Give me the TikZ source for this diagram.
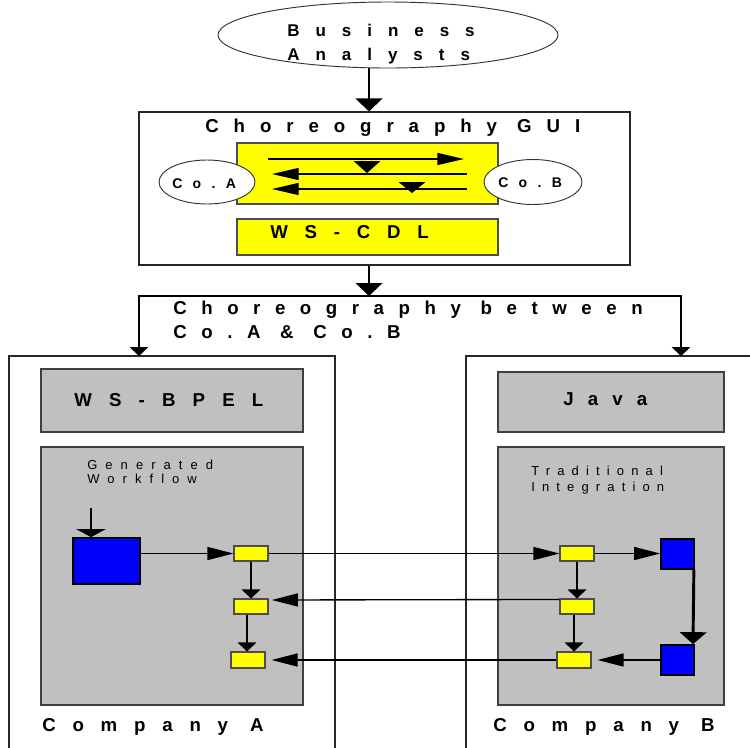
\documentclass[tikz,border=0pt]{standalone}
\usepackage{fontspec}
\setmainfont{Liberation Sans}
\usetikzlibrary{arrows.meta,fit,shapes.geometric}
\newcommand\spc[2]{\fontsize{#2}{#2}\selectfont\addfontfeature{LetterSpace=#1}}
\definecolor{gfill}{HTML}{C0C0C0}
\definecolor{yfill}{HTML}{FFFF00}
\definecolor{bfill}{HTML}{0000FF}
\begin{document}
\begin{tikzpicture}[x=0.75pt,y=-0.75pt,
  frame/.style={draw=black!85,line width=0.8pt},
  gbox/.style={draw=black!75,fill=gfill,line width=0.8pt,inner sep=0pt},
  ybox/.style={draw=black!70,fill=yfill,line width=0.8pt,inner sep=0pt},
  bbox/.style={draw=black,fill=bfill,line width=1.3pt,inner sep=0pt},
  oval/.style={ellipse,draw=black!80,fill=white,line width=0.7pt,inner sep=0pt},
  lbl/.style={anchor=base west,inner sep=0pt},
  bigtxt/.style={font=\bfseries\spc{#1}{14}},
  harrow/.style={line width=1pt,-{Triangle[length=19.5pt,width=9.75pt]}},
  varrow/.style={line width=1pt,-{Triangle[length=6.75pt,width=14pt]}},
  toparrow/.style={line width=1.6pt,-{Triangle[length=9.75pt,width=20pt]}},
  thickarrow/.style={line width=2.2pt,-{Triangle[length=9pt,width=20pt]}},
  tri/.style={fill=black}
]
\useasboundingbox (0,0) rectangle (750,747);

% Business analysts
\node[oval,minimum width=255pt,minimum height=49.5pt] (ba) at (388,35) {};
\node[lbl,font=\bfseries\spc{94}{12.75}] (ba1) at (287,36) {Business};
\node[lbl,font=\bfseries\spc{94}{12.75}] (ba2) at (287,60) {Analysts};

% Choreography GUI
\node[frame,fit={(139,112) (630,265)},inner sep=0pt] (gui) {};
\node[lbl,bigtxt=80] (guit) at (205,132) {Choreography GUI};
\node[ybox,fit={(237,143) (498,204)}] (ylw) {};
\node[ybox,fit={(237,219) (498,255)}] (cdl) {};
\node[lbl,bigtxt=90] (cdlt) at (270,238) {WS-CDL};
\node[oval,minimum width=72pt,minimum height=33pt] (coa) at (207,182) {};
\node[lbl,font=\bfseries\spc{74}{10.5}] (coat) at (172,188) {Co.A};
\node[oval,minimum width=73.5pt,minimum height=33.75pt] (cob) at (533,182) {};
\node[lbl,font=\bfseries\spc{74}{10.5}] (cobt) at (498,187) {Co.B};

% message arrows inside the GUI
\draw[line width=1pt,-{Triangle[length=20pt,width=9pt]}] (268,159) -- (464,159);
\draw[line width=1pt,-{Triangle[length=20pt,width=9pt]}] (467,174) -- (272,174);
\draw[line width=1pt,-{Triangle[length=20pt,width=9pt]}] (467,189) -- (272,189);
\fill[tri] (353.5,161) -- (380.5,161) -- (367,173) -- cycle;
\fill[tri] (398.5,182) -- (425.5,182) -- (412,193) -- cycle;

% top arrows
\coordinate (br) at (369,296);
\draw[toparrow] (ba.south -| br) -- (gui.north -| br);
\draw[toparrow] (gui.south -| br) -- (br);
\node[lbl,bigtxt=78] (cbt1) at (173,314) {Choreography between};
\node[lbl,bigtxt=78] (cbt2) at (173,338) {Co.A \& Co.B};

% company frames
\coordinate (cA) at (139,356);
\coordinate (cB) at (681,356);
\draw[frame] (9,750) -- (9,356) -- (335,356) -- (335,750);
\draw[frame] (466,750) -- (466,356) -- (752,356);
\draw[varrow,line width=0.9pt] (br) -| (cA);
\draw[varrow,line width=0.9pt] (br) -| (cB);

% Company A
\node[gbox,fit={(41,369) (303,432)}] (bpel) {};
\node[lbl,bigtxt=92] (bpelt) at (74,406) {WS-BPEL};
\node[gbox,fit={(41,447) (303,705)}] (wfA) {};
\node[lbl,font=\spc{62}{9.75}] (gw1) at (87,469) {Generated};
\node[lbl,font=\spc{62}{9.75}] (gw2) at (87,483) {Workflow};
\node[lbl,bigtxt=90] (compA) at (42,731) {Company A};

% Company B
\node[gbox,fit={(498,372) (724,432)}] (java) {};
\node[lbl,bigtxt=76] (javat) at (563,405) {Java};
\node[gbox,fit={(498,447) (724,705)}] (wfB) {};
\node[lbl,font=\spc{55}{9.75}] (ti1) at (531,475) {Traditional};
\node[lbl,font=\spc{55}{9.75}] (ti2) at (531,491) {Integration};
\node[lbl,bigtxt=90] (compB) at (493,731) {Company B};

% workflow A
\coordinate (inA) at (91,508);
\node[bbox,fit={(73,538) (140,584)}] (blA) {};
\node[ybox,fit={(234,546) (268,561)}] (yA1) {};
\node[ybox,fit={(234,599) (268,614)}] (yA2) {};
\node[ybox,fit={(231,652) (265,668)}] (yA3) {};

% workflow B
\node[ybox,fit={(560,546) (594,561)}] (yB1) {};
\node[ybox,fit={(560,599) (594,614)}] (yB2) {};
\node[ybox,fit={(557,652) (591,668)}] (yB3) {};
\node[bbox,fit={(661,539) (694,569)}] (blB1) {};
\node[bbox,fit={(661,645) (694,675)}] (blB2) {};

% connectors
\draw[line width=1pt,-{Triangle[length=6pt,width=22pt]}] (inA) -- (inA |- blA.north);
\draw[harrow] (blA.east |- yA1.west) -- (yA1.west);
\draw[harrow] (yA1.east) -- (yB1.west);
\draw[harrow] (yB1.east) -- (blB1.west |- yB1.east);
\draw[varrow] (yA1.south -| 251,0) -- (yA2.north -| 251,0);
\draw[varrow] (yA2.south -| 247,0) -- (yA3.north -| 247,0);
\draw[varrow] (yB1.south -| 577,0) -- (yB2.north -| 577,0);
\draw[varrow] (yB2.south -| 574,0) -- (yB3.north -| 574,0);
\draw[harrow,shorten >=2.5pt] (yB2.north west) ++(0,1) -- (yA2.east |- 0,600);
\draw[harrow,shorten >=4.5pt] (yB3.west) -- (yA3.east);
\draw[harrow,shorten >=4.5pt] (blB2.west) -- (yB3.east |- blB2.west);
\draw[thickarrow] (blB1.south east) ++(-1,0) -- (blB2.north east -| 693,0);
\end{tikzpicture}
\end{document}
